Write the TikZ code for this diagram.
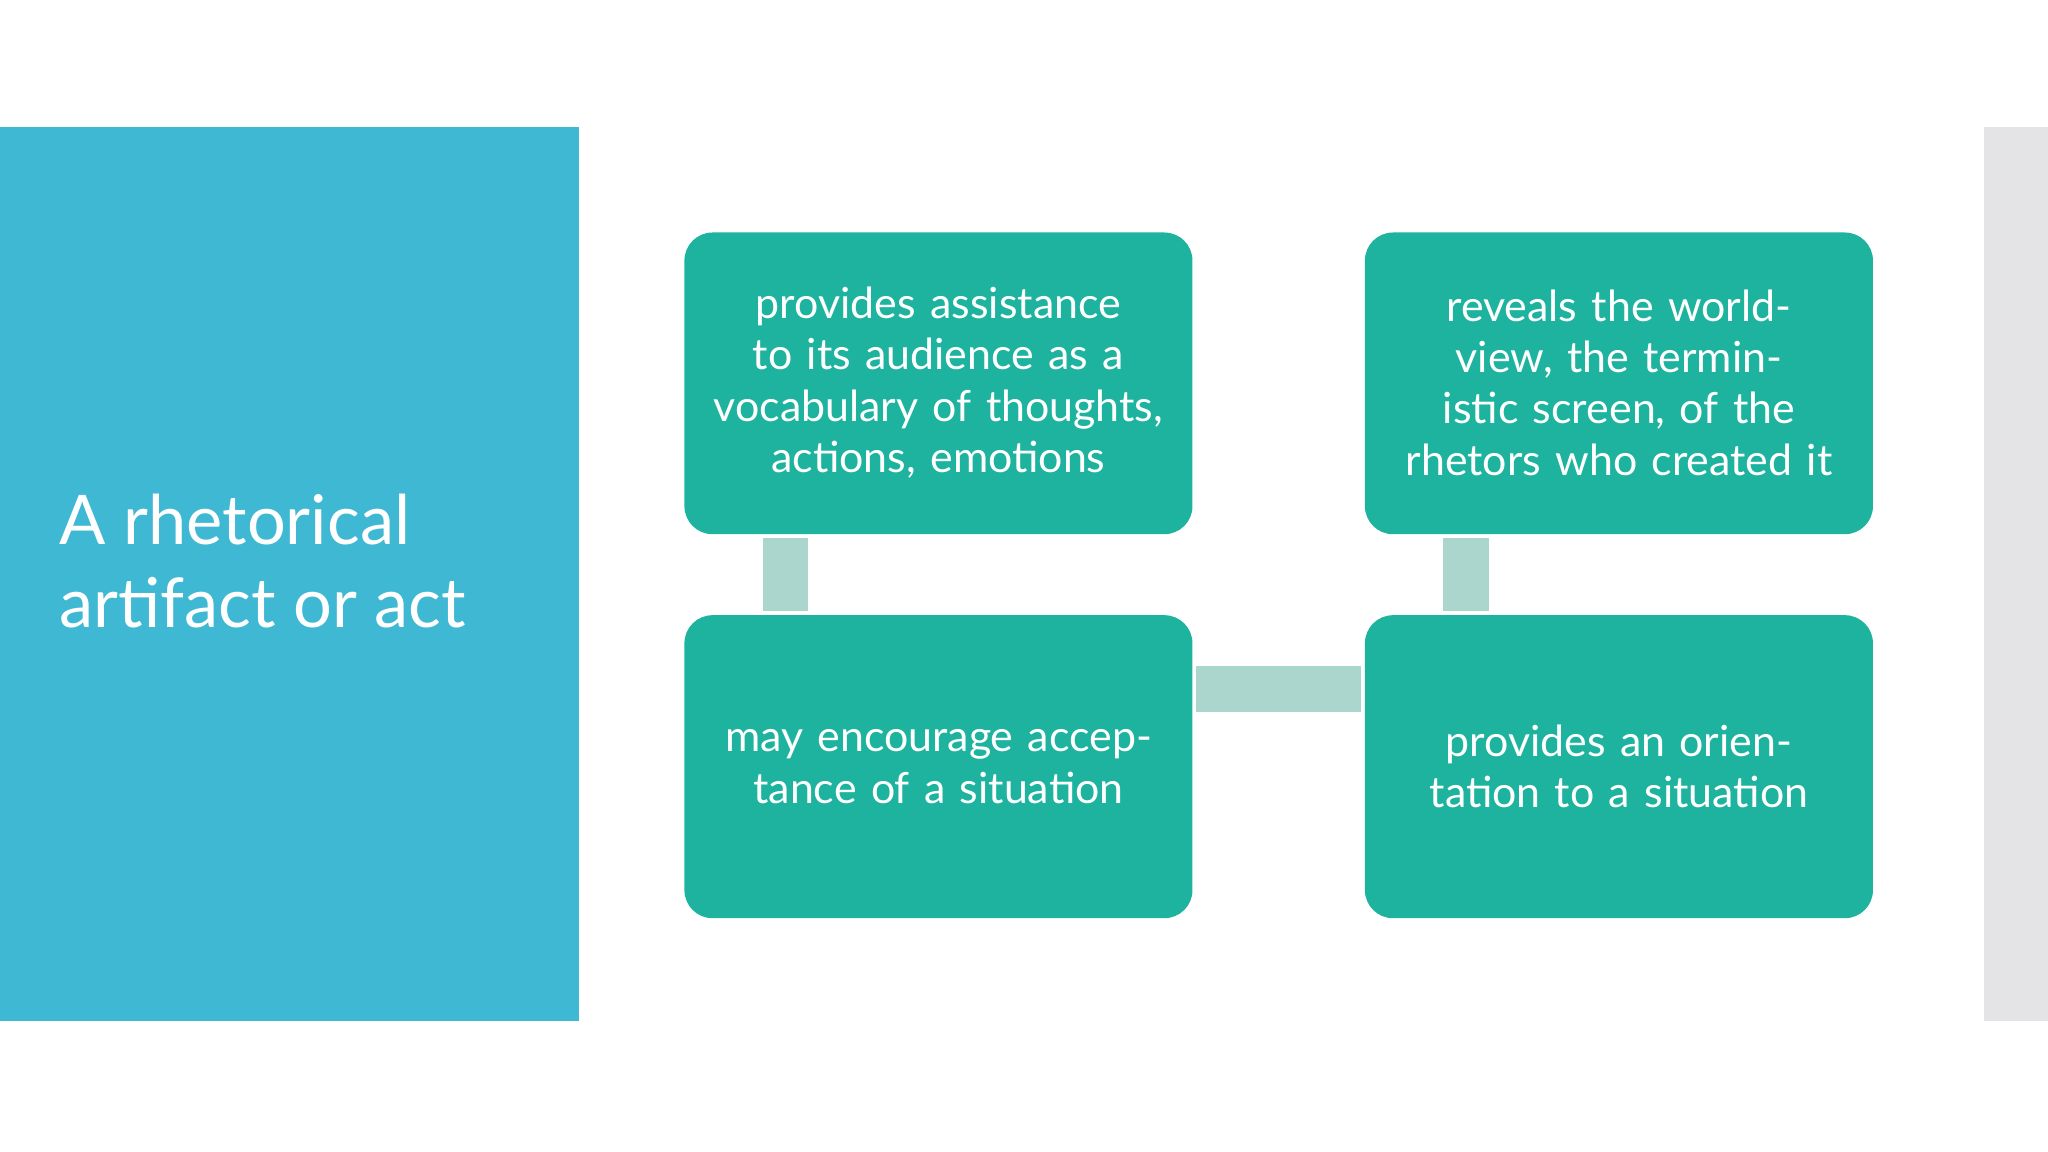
\documentclass[tikz,border=0pt]{standalone}
\usepackage{fontspec}
\setmainfont{Lato}
\definecolor{panel}{HTML}{3FB8D4}
\definecolor{teal}{HTML}{1DB39F}
\definecolor{link}{HTML}{AAD6CD}
\definecolor{strip}{HTML}{E4E4E6}
\begin{document}
\begin{tikzpicture}[x=0.01306cm,y=-0.01306cm,
  box/.style={fill=teal,rounded corners=8pt,text=white,align=center,font=\fontsize{12.2}{14.6}\selectfont,text width=4.9cm},
  linkbar/.style={fill=link,draw=none}]
\useasboundingbox (0,0) rectangle (1568,882);
\fill[panel] (0,97) rectangle (443,782);
\fill[strip] (1519,97) rectangle (1568,782);
\node[anchor=north west,text=white,align=left,font=\fontsize{19.5}{23.4}\selectfont,inner sep=0] (title) at (45,378) {A rhetorical\\artifact or act};
\path[box] (524,178) rectangle (913,409);
\path[box] (1045,178) rectangle (1434,409);
\path[box] (524,471) rectangle (913,703);
\path[box] (1045,471) rectangle (1434,703);
\node[box,fill=none] (tl) at (718.5,293) {provides assistance to its audience as a vocabulary of thoughts, actions, emotions};
\node[box,fill=none] (tr) at (1239.5,293) {reveals the worldview, the terministic screen, of the rhetors who created it};
\node[box,fill=none] (bl) at (718.5,587) {may encourage acceptance of a situation};
\node[box,fill=none] (br) at (1239.5,587) {provides an orientation to a situation};
\fill[link] (584,412) rectangle (619,468);
\fill[link] (1105,412) rectangle (1140,468);
\fill[link] (916,510) rectangle (1042,545);
\end{tikzpicture}
\end{document}
